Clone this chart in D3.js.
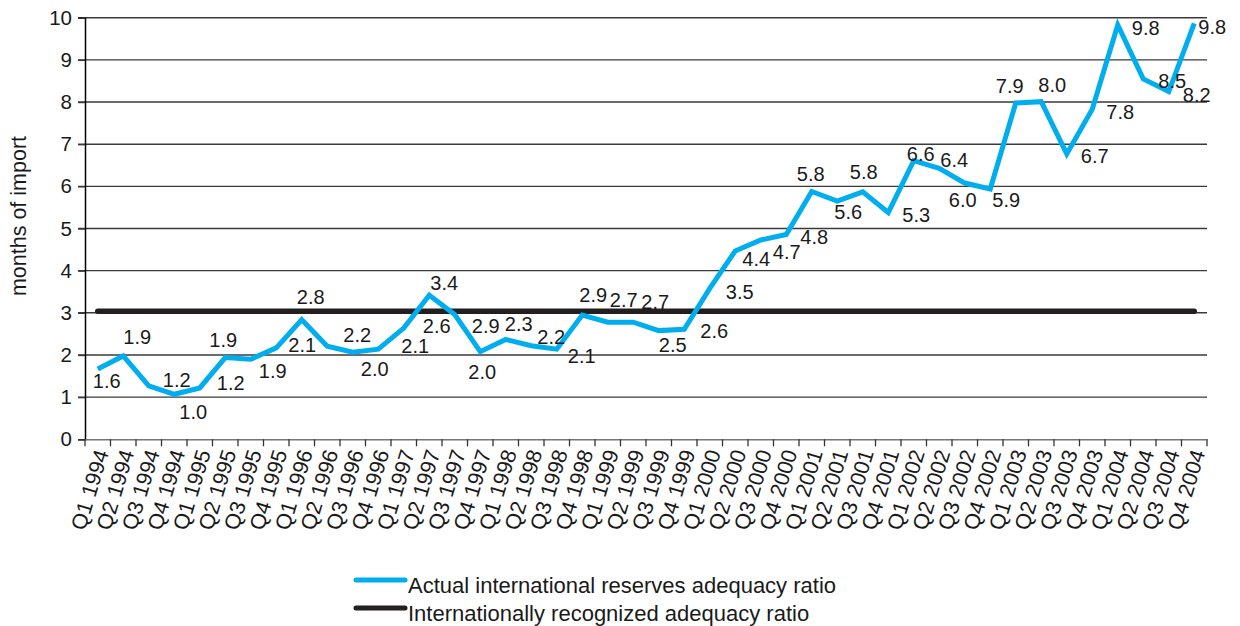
<!DOCTYPE html>
<html><head><meta charset="utf-8">
<script src="https://cdn.jsdelivr.net/npm/d3@7"></script>
<style>body{margin:0;background:#fff}svg{display:block}</style>
</head><body>
<svg id="c" width="1240" height="626"></svg>
<script>
const categories = [
  "Q1 1994","Q2 1994","Q3 1994","Q4 1994",
  "Q1 1995","Q2 1995","Q3 1995","Q4 1995",
  "Q1 1996","Q2 1996","Q3 1996","Q4 1996",
  "Q1 1997","Q2 1997","Q3 1997","Q4 1997",
  "Q1 1998","Q2 1998","Q3 1998","Q4 1998",
  "Q1 1999","Q2 1999","Q3 1999","Q4 1999",
  "Q1 2000","Q2 2000","Q3 2000","Q4 2000",
  "Q1 2001","Q2 2001","Q3 2001","Q4 2001",
  "Q1 2002","Q2 2002","Q3 2002","Q4 2002",
  "Q1 2003","Q2 2003","Q3 2003","Q4 2003",
  "Q1 2004","Q2 2004","Q3 2004","Q4 2004"
];
const actualRatio = [
  1.63,1.94,1.23,1.03, 1.18,1.90,1.86,2.13, 2.80,2.17,2.03,2.10,
  2.60,3.38,2.92,2.04, 2.33,2.18,2.10,2.91, 2.74,2.74,2.54,2.57,
  3.54,4.43,4.69,4.82, 5.84,5.61,5.83,5.34, 6.57,6.39,6.04,5.90,
  7.94,7.97,6.73,7.79, 9.79,8.51,8.21,9.83
];
const recognizedRatio = [
  3,3,3,3, 3,3,3,3, 3,3,3,3, 3,3,3,3, 3,3,3,3, 3,3,3,3,
  3,3,3,3, 3,3,3,3, 3,3,3,3, 3,3,3,3, 3,3,3,3
];
const yTicks = [0,1,2,3,4,5,6,7,8,9,10];
const seriesNames = ["Actual international reserves adequacy ratio","Internationally recognized adequacy ratio"];
const yTitle = "months of import";
// data-label placement relative to each point (dx, dy in px)
const labelOffsets = [
  [9,12],[14,-19],[28,-6],[19,18],[31,-5],[-2,-18],[22,12],[26,-3],
  [9,-23],[30,-11],[22,17],[37,-3],[33,-2],[15,-12],[31,11],[2,20],
  [13,-15],[20,-9],[25,7],[11,-20],[16,-22],[22,-20],[14,14],[30,2],
  [30,4],[21,8],[26,12],[28,3],[-1,-17],[11,11],[1,-20],[28,2],
  [7,-7],[15,-8],[-2,17],[16,11],[-6,-17],[11,-17],[28,2],[28,3],
  [28,3],[29,2],[28,3],[18,4]
];

const BLUE = "#00aeef", BLACK = "#231f20", FONT = "'Liberation Sans', Arial, sans-serif";
const L = 85, R = 1207, T = 17.7, B = 439.3;
const svg = d3.select("#c").style("font-family", FONT);
const x = d3.scaleBand().domain(categories).range([L, R]);
const y = d3.scaleLinear().domain([0, 10]).range([B, T]);
const cx = c => x(c) + x.bandwidth() / 2;

// gridlines
svg.append("g").selectAll("line").data(yTicks.filter(t => t > 0)).join("line")
  .attr("x1", L - 7).attr("x2", R).attr("y1", d => y(d)).attr("y2", d => y(d))
  .attr("stroke", "#3a3a3a").attr("stroke-width", 1.4);

// y axis
const ya = svg.append("g").attr("transform", `translate(${L},0)`)
  .call(d3.axisLeft(y).tickValues(yTicks).tickSize(7).tickPadding(6).tickFormat(d3.format("d")));
ya.select(".domain").attr("stroke", "#000").attr("stroke-width", 1.5);
ya.selectAll(".tick line").attr("stroke", "#3a3a3a").attr("stroke-width", 1.4);
ya.selectAll(".tick text").attr("font-size", 20.5).attr("fill", "#1a1a1a").attr("font-family", FONT);

// x axis
const xa = svg.append("g").attr("transform", `translate(0,${B})`)
  .call(d3.axisBottom(x).tickSize(0).tickPadding(0));
xa.select(".domain").attr("stroke", "#777").attr("stroke-width", 1.5);
xa.selectAll(".tick text")
  .attr("font-size", 21.5).attr("fill", "#1a1a1a").attr("font-family", FONT)
  .attr("text-anchor", "end").attr("y", 0).attr("dy", "0.35em")
  .attr("transform", "translate(4,11) rotate(-73)");
svg.append("g").selectAll("line").data(categories.map(c => x(c)).concat([R])).join("line")
  .attr("x1", d => d).attr("x2", d => d).attr("y1", B).attr("y2", B + 7)
  .attr("stroke", "#333").attr("stroke-width", 1.3);

// series
const sg = svg.append("g").attr("transform", "translate(0,-1.6)");
const line = d3.line().x((d, i) => cx(categories[i])).y(d => y(d));
sg.append("path").datum(recognizedRatio).attr("d", line)
  .attr("fill", "none").attr("stroke", BLACK).attr("stroke-width", 5.5).attr("stroke-linecap", "round");
sg.append("path").datum(actualRatio).attr("d", line)
  .attr("fill", "none").attr("stroke", BLUE).attr("stroke-width", 5).attr("stroke-linejoin", "miter").attr("stroke-linecap", "butt");

sg.append("g").selectAll("text").data(actualRatio).join("text")
  .attr("x", (d, i) => cx(categories[i]) + labelOffsets[i][0])
  .attr("y", (d, i) => y(d) + labelOffsets[i][1])
  .attr("text-anchor", "middle").attr("dominant-baseline", "central")
  .attr("font-size", 20).attr("fill", "#1a1a1a")
  .text(d => d.toFixed(1));

// y title
svg.append("text").attr("transform", "translate(19,216) rotate(-90)")
  .attr("text-anchor", "middle").attr("dominant-baseline", "central")
  .attr("font-size", 21.5).attr("fill", "#1a1a1a").text(yTitle);

// legend
const lg = svg.append("g");
const legendColors = [BLUE, BLACK];
seriesNames.forEach((n, i) => {
  const yy = 580 + i * 28;
  lg.append("line").attr("x1", 356).attr("x2", 405).attr("y1", yy).attr("y2", yy)
    .attr("stroke", legendColors[i]).attr("stroke-width", 5).attr("stroke-linecap", "round");
  lg.append("text").attr("x", 408).attr("y", yy + 5).attr("dominant-baseline", "central")
    .attr("font-size", 22).attr("fill", "#1a1a1a").text(n);
});
</script>
</body></html>
